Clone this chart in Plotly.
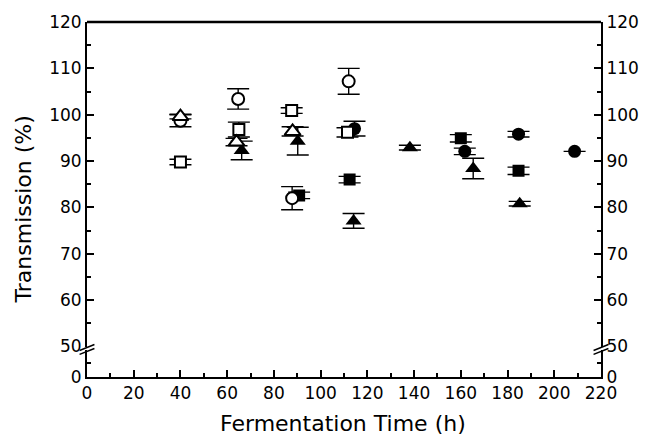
import plotly.graph_objects as go
from plotly.subplots import make_subplots

# ---- data ----
oc_x = [40, 64.7, 87.8, 112.0]
oc_y = [98.7, 103.4, 82.0, 107.2]
oc_e = [1.3, 2.2, 2.5, 2.8]

os_x = [40, 65.0, 87.6, 111.5]
os_y = [89.8, 96.8, 100.9, 96.2]
os_e = [0.6, 1.6, 0.6, 1.0]

ot_x = [40, 64.0, 88.0]
ot_y = [99.6, 94.1, 96.4]
ot_e = [0.5, 0.8, 1.0]

fc_x = [114.5, 161.7, 184.7, 208.7]
fc_y = [97.0, 92.1, 95.8, 92.1]
fc_e = [1.6, 0.7, 0.6, 0.0]

fs_x = [90.8, 112.4, 160.0, 184.7]
fs_y = [82.6, 86.0, 94.9, 87.9]
fs_e = [0.7, 0.7, 0.8, 0.8]

ft_x = [66.2, 90.2, 114.1, 138.2, 165.3, 185.2]
ft_y = [92.3, 94.3, 77.1, 92.9, 88.4, 80.8]
ft_e = [2.0, 3.0, 1.6, 0.5, 2.2, 0.5]

FONT = "DejaVu Sans"
W, H = 651, 442
ML, MR, MT, MB = 87, 45, 16, 65
PW, PH = W - ML - MR, H - MT - MB

fig = make_subplots(rows=2, cols=1, shared_xaxes=True,
                    vertical_spacing=4 / PH, row_heights=[330, 27],
                    specs=[[{"secondary_y": True}], [{"secondary_y": True}]])


def err(vals):
    return dict(type="data", array=vals, visible=True, color="black",
                thickness=1.4, width=11)


def add(x, y, e, symbol, fill, size):
    fig.add_trace(go.Scatter(
        x=x, y=y, mode="markers",
        error_y=err(e),
        marker=dict(symbol=symbol, size=size, color=fill,
                    line=dict(color="black", width=2 if fill == "white" else 0)),
        showlegend=False), row=1, col=1, secondary_y=False)


add(fs_x, fs_y, fs_e, "square", "black", 12)
add(fc_x, fc_y, fc_e, "circle", "black", 13)
add(ft_x, ft_y, ft_e, "triangle-up", "black", 14)
add(os_x, os_y, os_e, "square", "white", 11)
add(oc_x, oc_y, oc_e, "circle", "white", 12)
add(ot_x, ot_y, ot_e, "triangle-up", "white", 14)

# empty helper traces so every axis is drawn
for r in (1, 2):
    for sec in (False, True):
        if r == 1 and not sec:
            continue
        fig.add_trace(go.Scatter(x=[None], y=[None], mode="markers",
                                 showlegend=False, hoverinfo="skip"),
                      row=r, col=1, secondary_y=sec)

tickfont = dict(family=FONT, size=17, color="black")
yline = dict(showline=True, linecolor="black", linewidth=2, ticks="inside",
             ticklen=7, tickwidth=1.5, tickcolor="black", showgrid=False,
             zeroline=False, tickfont=tickfont)


def minor(dt):
    return dict(dtick=dt, tick0=0, ticks="inside", ticklen=4,
                tickcolor="black", tickwidth=1.5, showgrid=False)


fig.update_layout(
    width=W, height=H,
    margin=dict(l=ML, r=MR, t=MT, b=MB, pad=0),
    paper_bgcolor="white", plot_bgcolor="white",
    showlegend=False,
)

for sec in (False, True):
    # upper panel (50-120)
    fig.update_yaxes(range=[50, 120], dtick=10, tick0=0, minor=minor(5),
                     **yline, row=1, col=1, secondary_y=sec)
    # lower panel (0-50), only "0" labelled
    fig.update_yaxes(range=[0, 49], tickmode="array", tickvals=[0],
                     minor=minor(25), **yline, row=2, col=1, secondary_y=sec)

fig.update_xaxes(domain=[0, 1])
fig.update_xaxes(range=[0, 220], showline=False, ticks="", showgrid=False,
                 zeroline=False, showticklabels=False, row=1, col=1)
fig.update_xaxes(range=[0, 220], dtick=20, tick0=0, showline=True,
                 linecolor="black", linewidth=2, ticks="inside", ticklen=7,
                 tickwidth=1.5, tickcolor="black", showgrid=False,
                 zeroline=False, tickfont=tickfont, showticklabels=True,
                 minor=minor(10), row=2, col=1)


def px(x):
    return (x - ML) / PW


def py(y):
    return (H - MB - y) / PH


# top frame line
fig.add_shape(type="line", xref="paper", yref="paper", x0=0, x1=1, y0=1, y1=1,
              line=dict(color="black", width=2.5))

# axis-break marks on both sides
for cx in (ML, ML + PW):
    for dy in (0, 4):
        fig.add_shape(type="line", xref="paper", yref="paper",
                      x0=px(cx - 7.5), y0=py(350 + dy),
                      x1=px(cx + 7.5), y1=py(344 + dy),
                      line=dict(color="black", width=1.5))

titlefont = dict(family=FONT, size=22, color="black")
fig.add_annotation(text="Fermentation Time (h)", xref="paper", yref="paper",
                   x=px(345), y=py(424), showarrow=False, font=titlefont,
                   xanchor="center", yanchor="middle")
fig.add_annotation(text="Transmission (%)", xref="paper", yref="paper",
                   x=px(23), y=py(207), showarrow=False, font=titlefont,
                   textangle=-90, xanchor="center", yanchor="middle")

fig.write_html("out.html")
